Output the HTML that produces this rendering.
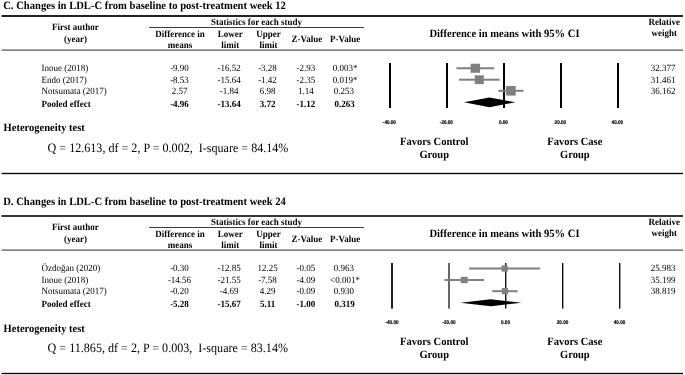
<!DOCTYPE html>
<html><head><meta charset="utf-8"><title>Forest plots</title>
<style>
html,body{margin:0;padding:0;background:#fff;width:685px;height:375px;overflow:hidden;}
svg{display:block;filter:grayscale(1);text-rendering:geometricPrecision;}
</style></head><body>
<svg width="685" height="375" viewBox="0 0 685 375">
<rect x="0" y="0" width="685" height="375" fill="#fff"/>
<text transform="translate(3.2 8.60) scale(1 1.06)" font-size="10.6" font-family='"Liberation Serif", serif' font-weight="bold" text-anchor="start" fill="#000">C. Changes in LDL-C from baseline to post-treatment week 12</text>
<rect x="1.5" y="15" width="681.5" height="2" fill="#222"/>
<text transform="translate(75.4 30.40) scale(1 1.06)" font-size="9" font-family='"Liberation Serif", serif' font-weight="bold" text-anchor="middle" fill="#000">First author</text>
<text transform="translate(75.5 42.00) scale(1 1.06)" font-size="9" font-family='"Liberation Serif", serif' font-weight="bold" text-anchor="middle" fill="#000">(year)</text>
<text transform="translate(256.5 24.90) scale(1 1.06)" font-size="9" font-family='"Liberation Serif", serif' font-weight="bold" text-anchor="middle" fill="#000">Statistics for each study</text>
<rect x="149" y="27" width="215" height="1" fill="#3c3c3c"/>
<text transform="translate(180 37.00) scale(1 1.06)" font-size="9" font-family='"Liberation Serif", serif' font-weight="bold" text-anchor="middle" fill="#000">Difference in</text>
<text transform="translate(180 48.00) scale(1 1.06)" font-size="9" font-family='"Liberation Serif", serif' font-weight="bold" text-anchor="middle" fill="#000">means</text>
<text transform="translate(230.2 37.00) scale(1 1.06)" font-size="9" font-family='"Liberation Serif", serif' font-weight="bold" text-anchor="middle" fill="#000">Lower</text>
<text transform="translate(230.2 48.00) scale(1 1.06)" font-size="9" font-family='"Liberation Serif", serif' font-weight="bold" text-anchor="middle" fill="#000">limit</text>
<text transform="translate(268.6 36.80) scale(1 1.06)" font-size="9" font-family='"Liberation Serif", serif' font-weight="bold" text-anchor="middle" fill="#000">Upper</text>
<text transform="translate(268.6 47.50) scale(1 1.06)" font-size="9" font-family='"Liberation Serif", serif' font-weight="bold" text-anchor="middle" fill="#000">limit</text>
<text transform="translate(306.8 41.80) scale(1 1.06)" font-size="9" font-family='"Liberation Serif", serif' font-weight="bold" text-anchor="middle" fill="#000">Z-Value</text>
<text transform="translate(345.2 41.80) scale(1 1.06)" font-size="9" font-family='"Liberation Serif", serif' font-weight="bold" text-anchor="middle" fill="#000">P-Value</text>
<text transform="translate(429.5 36.60) scale(1 1.06)" font-size="10.55" font-family='"Liberation Serif", serif' font-weight="bold" text-anchor="start" fill="#000" textLength="150" lengthAdjust="spacing">Difference in means with 95% CI</text>
<text transform="translate(664.3 24.90) scale(1 1.06)" font-size="9" font-family='"Liberation Serif", serif' font-weight="bold" text-anchor="middle" fill="#000">Relative</text>
<text transform="translate(664.3 35.90) scale(1 1.06)" font-size="9" font-family='"Liberation Serif", serif' font-weight="bold" text-anchor="middle" fill="#000">weight</text>
<rect x="1.5" y="49" width="681.5" height="1" fill="#a6a6a6"/>
<rect x="1.5" y="50" width="681.5" height="1" fill="#858585"/>
<text transform="translate(41.6 71.00) scale(1 1.06)" font-size="9" font-family='"Liberation Serif", serif' text-anchor="start" fill="#000">Inoue (2018)</text>
<text transform="translate(179.5 71.00) scale(1 1.06)" font-size="9" font-family='"Liberation Serif", serif' text-anchor="middle" fill="#000">-9.90</text>
<text transform="translate(229.2 71.00) scale(1 1.06)" font-size="9" font-family='"Liberation Serif", serif' text-anchor="middle" fill="#000">-16.52</text>
<text transform="translate(267.5 71.00) scale(1 1.06)" font-size="9" font-family='"Liberation Serif", serif' text-anchor="middle" fill="#000">-3.28</text>
<text transform="translate(305.9 71.00) scale(1 1.06)" font-size="9" font-family='"Liberation Serif", serif' text-anchor="middle" fill="#000">-2.93</text>
<text transform="translate(345 71.00) scale(1 1.06)" font-size="9" font-family='"Liberation Serif", serif' text-anchor="middle" fill="#000">0.003*</text>
<text transform="translate(663.2 71.00) scale(1 1.06)" font-size="9" font-family='"Liberation Serif", serif' text-anchor="middle" fill="#000">32.377</text>
<text transform="translate(41.6 82.60) scale(1 1.06)" font-size="9" font-family='"Liberation Serif", serif' text-anchor="start" fill="#000">Endo (2017)</text>
<text transform="translate(179.5 82.60) scale(1 1.06)" font-size="9" font-family='"Liberation Serif", serif' text-anchor="middle" fill="#000">-8.53</text>
<text transform="translate(229.2 82.60) scale(1 1.06)" font-size="9" font-family='"Liberation Serif", serif' text-anchor="middle" fill="#000">-15.64</text>
<text transform="translate(267.5 82.60) scale(1 1.06)" font-size="9" font-family='"Liberation Serif", serif' text-anchor="middle" fill="#000">-1.42</text>
<text transform="translate(305.9 82.60) scale(1 1.06)" font-size="9" font-family='"Liberation Serif", serif' text-anchor="middle" fill="#000">-2.35</text>
<text transform="translate(345 82.60) scale(1 1.06)" font-size="9" font-family='"Liberation Serif", serif' text-anchor="middle" fill="#000">0.019*</text>
<text transform="translate(663.2 82.60) scale(1 1.06)" font-size="9" font-family='"Liberation Serif", serif' text-anchor="middle" fill="#000">31.461</text>
<text transform="translate(41.6 94.20) scale(1 1.06)" font-size="9" font-family='"Liberation Serif", serif' text-anchor="start" fill="#000">Notsumata (2017)</text>
<text transform="translate(179.5 94.20) scale(1 1.06)" font-size="9" font-family='"Liberation Serif", serif' text-anchor="middle" fill="#000">2.57</text>
<text transform="translate(229.2 94.20) scale(1 1.06)" font-size="9" font-family='"Liberation Serif", serif' text-anchor="middle" fill="#000">-1.84</text>
<text transform="translate(267.5 94.20) scale(1 1.06)" font-size="9" font-family='"Liberation Serif", serif' text-anchor="middle" fill="#000">6.98</text>
<text transform="translate(305.9 94.20) scale(1 1.06)" font-size="9" font-family='"Liberation Serif", serif' text-anchor="middle" fill="#000">1.14</text>
<text transform="translate(343.9 94.20) scale(1 1.06)" font-size="9" font-family='"Liberation Serif", serif' text-anchor="middle" fill="#000">0.253</text>
<text transform="translate(663.2 94.20) scale(1 1.06)" font-size="9" font-family='"Liberation Serif", serif' text-anchor="middle" fill="#000">36.162</text>
<text transform="translate(41.6 106.60) scale(1 1.06)" font-size="9" font-family='"Liberation Serif", serif' font-weight="bold" text-anchor="start" fill="#000">Pooled effect</text>
<text transform="translate(179.5 106.60) scale(1 1.06)" font-size="9" font-family='"Liberation Serif", serif' font-weight="bold" text-anchor="middle" fill="#000">-4.96</text>
<text transform="translate(229.2 106.60) scale(1 1.06)" font-size="9" font-family='"Liberation Serif", serif' font-weight="bold" text-anchor="middle" fill="#000">-13.64</text>
<text transform="translate(267.5 106.60) scale(1 1.06)" font-size="9" font-family='"Liberation Serif", serif' font-weight="bold" text-anchor="middle" fill="#000">3.72</text>
<text transform="translate(305.9 106.60) scale(1 1.06)" font-size="9" font-family='"Liberation Serif", serif' font-weight="bold" text-anchor="middle" fill="#000">-1.12</text>
<text transform="translate(344.5 106.60) scale(1 1.06)" font-size="9" font-family='"Liberation Serif", serif' font-weight="bold" text-anchor="middle" fill="#000">0.263</text>
<text transform="translate(3.6 131.40) scale(1 1.06)" font-size="10.5" font-family='"Liberation Serif", serif' font-weight="bold" text-anchor="start" fill="#000">Heterogeneity test</text>
<text transform="translate(47.6 152.00) scale(1 1.06)" font-size="12.08" font-family='"Liberation Serif", serif' text-anchor="start" fill="#000" xml:space="preserve">Q = 12.613, df = 2, P = 0.002,  I-square = 84.14%</text>
<rect x="1.5" y="172" width="681.5" height="1" fill="#d4d4d4"/>
<rect x="1.5" y="174" width="681.5" height="1" fill="#d4d4d4"/>
<rect x="1.5" y="173" width="681.5" height="1" fill="#080808"/>
<rect x="389" y="63" width="2" height="45" fill="#000"/>
<rect x="446" y="63" width="2" height="45" fill="#000"/>
<rect x="503" y="63" width="2" height="45" fill="#000"/>
<rect x="560" y="63" width="2" height="45" fill="#000"/>
<rect x="617" y="63" width="2" height="45" fill="#000"/>
<rect x="456.51800000000003" y="67.25" width="37.73399999999998" height="2" fill="#808080"/>
<rect x="459.026" y="78.7" width="40.52699999999999" height="2" fill="#808080"/>
<rect x="498.356" y="89.8" width="25.137000000000057" height="2" fill="#808080"/>
<rect x="470.685" y="63.7" width="9.4" height="9.1" fill="#808080"/>
<rect x="474.78950000000003" y="75.3" width="9.0" height="8.8" fill="#808080"/>
<rect x="506.1245" y="86.0" width="9.6" height="9.6" fill="#808080"/>
<polygon points="464.0,102.3 489.4,97.4 515.4,102.3 489.4,107.2" fill="#000"/>
<text x="389.4" y="124" font-size="5.4" font-family='"Liberation Sans", sans-serif' font-weight="bold" text-anchor="middle" fill="#000" textLength="13.10" lengthAdjust="spacingAndGlyphs" stroke="#000" stroke-width="0.18">-40.00</text>
<text x="446.4" y="124" font-size="5.4" font-family='"Liberation Sans", sans-serif' font-weight="bold" text-anchor="middle" fill="#000" textLength="13.10" lengthAdjust="spacingAndGlyphs" stroke="#000" stroke-width="0.18">-20.00</text>
<text x="503.4" y="124" font-size="5.4" font-family='"Liberation Sans", sans-serif' font-weight="bold" text-anchor="middle" fill="#000" textLength="8.99" lengthAdjust="spacingAndGlyphs" stroke="#000" stroke-width="0.18">0.00</text>
<text x="560.4" y="124" font-size="5.4" font-family='"Liberation Sans", sans-serif' font-weight="bold" text-anchor="middle" fill="#000" textLength="11.56" lengthAdjust="spacingAndGlyphs" stroke="#000" stroke-width="0.18">20.00</text>
<text x="617.4" y="124" font-size="5.4" font-family='"Liberation Sans", sans-serif' font-weight="bold" text-anchor="middle" fill="#000" textLength="11.56" lengthAdjust="spacingAndGlyphs" stroke="#000" stroke-width="0.18">40.00</text>
<text transform="translate(434.2 145.20) scale(1 1.06)" font-size="10.5" font-family='"Liberation Serif", serif' font-weight="bold" text-anchor="middle" fill="#000">Favors Control</text>
<text transform="translate(434.2 158.00) scale(1 1.06)" font-size="10.5" font-family='"Liberation Serif", serif' font-weight="bold" text-anchor="middle" fill="#000">Group</text>
<text transform="translate(574.8 145.20) scale(1 1.06)" font-size="10.5" font-family='"Liberation Serif", serif' font-weight="bold" text-anchor="middle" fill="#000">Favors Case</text>
<text transform="translate(574.8 158.00) scale(1 1.06)" font-size="10.5" font-family='"Liberation Serif", serif' font-weight="bold" text-anchor="middle" fill="#000">Group</text>
<text transform="translate(3.2 204.60) scale(1 1.06)" font-size="10.6" font-family='"Liberation Serif", serif' font-weight="bold" text-anchor="start" fill="#000">D. Changes in LDL-C from baseline to post-treatment week 24</text>
<rect x="1.5" y="215" width="681.5" height="2" fill="#363636"/>
<text transform="translate(75.4 230.40) scale(1 1.06)" font-size="9" font-family='"Liberation Serif", serif' font-weight="bold" text-anchor="middle" fill="#000">First author</text>
<text transform="translate(75.5 242.00) scale(1 1.06)" font-size="9" font-family='"Liberation Serif", serif' font-weight="bold" text-anchor="middle" fill="#000">(year)</text>
<text transform="translate(256.5 224.90) scale(1 1.06)" font-size="9" font-family='"Liberation Serif", serif' font-weight="bold" text-anchor="middle" fill="#000">Statistics for each study</text>
<rect x="149" y="227" width="215" height="1" fill="#3c3c3c"/>
<text transform="translate(180 237.00) scale(1 1.06)" font-size="9" font-family='"Liberation Serif", serif' font-weight="bold" text-anchor="middle" fill="#000">Difference in</text>
<text transform="translate(180 248.00) scale(1 1.06)" font-size="9" font-family='"Liberation Serif", serif' font-weight="bold" text-anchor="middle" fill="#000">means</text>
<text transform="translate(230.2 237.00) scale(1 1.06)" font-size="9" font-family='"Liberation Serif", serif' font-weight="bold" text-anchor="middle" fill="#000">Lower</text>
<text transform="translate(230.2 248.00) scale(1 1.06)" font-size="9" font-family='"Liberation Serif", serif' font-weight="bold" text-anchor="middle" fill="#000">limit</text>
<text transform="translate(268.6 236.80) scale(1 1.06)" font-size="9" font-family='"Liberation Serif", serif' font-weight="bold" text-anchor="middle" fill="#000">Upper</text>
<text transform="translate(268.6 247.50) scale(1 1.06)" font-size="9" font-family='"Liberation Serif", serif' font-weight="bold" text-anchor="middle" fill="#000">limit</text>
<text transform="translate(306.8 241.80) scale(1 1.06)" font-size="9" font-family='"Liberation Serif", serif' font-weight="bold" text-anchor="middle" fill="#000">Z-Value</text>
<text transform="translate(345.2 241.80) scale(1 1.06)" font-size="9" font-family='"Liberation Serif", serif' font-weight="bold" text-anchor="middle" fill="#000">P-Value</text>
<text transform="translate(429.5 236.60) scale(1 1.06)" font-size="10.55" font-family='"Liberation Serif", serif' font-weight="bold" text-anchor="start" fill="#000" textLength="150" lengthAdjust="spacing">Difference in means with 95% CI</text>
<text transform="translate(664.3 224.90) scale(1 1.06)" font-size="9" font-family='"Liberation Serif", serif' font-weight="bold" text-anchor="middle" fill="#000">Relative</text>
<text transform="translate(664.3 235.90) scale(1 1.06)" font-size="9" font-family='"Liberation Serif", serif' font-weight="bold" text-anchor="middle" fill="#000">weight</text>
<rect x="1.5" y="249" width="681.5" height="1" fill="#a6a6a6"/>
<rect x="1.5" y="250" width="681.5" height="1" fill="#858585"/>
<text transform="translate(41.6 271.00) scale(1 1.06)" font-size="9" font-family='"Liberation Serif", serif' text-anchor="start" fill="#000">Özdoğan (2020)</text>
<text transform="translate(179.5 271.00) scale(1 1.06)" font-size="9" font-family='"Liberation Serif", serif' text-anchor="middle" fill="#000">-0.30</text>
<text transform="translate(229.2 271.00) scale(1 1.06)" font-size="9" font-family='"Liberation Serif", serif' text-anchor="middle" fill="#000">-12.85</text>
<text transform="translate(267.5 271.00) scale(1 1.06)" font-size="9" font-family='"Liberation Serif", serif' text-anchor="middle" fill="#000">12.25</text>
<text transform="translate(305.9 271.00) scale(1 1.06)" font-size="9" font-family='"Liberation Serif", serif' text-anchor="middle" fill="#000">-0.05</text>
<text transform="translate(343.9 271.00) scale(1 1.06)" font-size="9" font-family='"Liberation Serif", serif' text-anchor="middle" fill="#000">0.963</text>
<text transform="translate(663.2 271.00) scale(1 1.06)" font-size="9" font-family='"Liberation Serif", serif' text-anchor="middle" fill="#000">25.983</text>
<text transform="translate(41.6 282.60) scale(1 1.06)" font-size="9" font-family='"Liberation Serif", serif' text-anchor="start" fill="#000">Inoue (2018)</text>
<text transform="translate(179.5 282.60) scale(1 1.06)" font-size="9" font-family='"Liberation Serif", serif' text-anchor="middle" fill="#000">-14.56</text>
<text transform="translate(229.2 282.60) scale(1 1.06)" font-size="9" font-family='"Liberation Serif", serif' text-anchor="middle" fill="#000">-21.55</text>
<text transform="translate(267.5 282.60) scale(1 1.06)" font-size="9" font-family='"Liberation Serif", serif' text-anchor="middle" fill="#000">-7.58</text>
<text transform="translate(305.9 282.60) scale(1 1.06)" font-size="9" font-family='"Liberation Serif", serif' text-anchor="middle" fill="#000">-4.09</text>
<text transform="translate(345 282.60) scale(1 1.06)" font-size="9" font-family='"Liberation Serif", serif' text-anchor="middle" fill="#000">&lt;0.001*</text>
<text transform="translate(663.2 282.60) scale(1 1.06)" font-size="9" font-family='"Liberation Serif", serif' text-anchor="middle" fill="#000">35.199</text>
<text transform="translate(41.6 294.20) scale(1 1.06)" font-size="9" font-family='"Liberation Serif", serif' text-anchor="start" fill="#000">Notsumata (2017)</text>
<text transform="translate(179.5 294.20) scale(1 1.06)" font-size="9" font-family='"Liberation Serif", serif' text-anchor="middle" fill="#000">-0.20</text>
<text transform="translate(229.2 294.20) scale(1 1.06)" font-size="9" font-family='"Liberation Serif", serif' text-anchor="middle" fill="#000">-4.69</text>
<text transform="translate(267.5 294.20) scale(1 1.06)" font-size="9" font-family='"Liberation Serif", serif' text-anchor="middle" fill="#000">4.29</text>
<text transform="translate(305.9 294.20) scale(1 1.06)" font-size="9" font-family='"Liberation Serif", serif' text-anchor="middle" fill="#000">-0.09</text>
<text transform="translate(343.9 294.20) scale(1 1.06)" font-size="9" font-family='"Liberation Serif", serif' text-anchor="middle" fill="#000">0.930</text>
<text transform="translate(663.2 294.20) scale(1 1.06)" font-size="9" font-family='"Liberation Serif", serif' text-anchor="middle" fill="#000">38.819</text>
<text transform="translate(41.6 306.60) scale(1 1.06)" font-size="9" font-family='"Liberation Serif", serif' font-weight="bold" text-anchor="start" fill="#000">Pooled effect</text>
<text transform="translate(179.5 306.60) scale(1 1.06)" font-size="9" font-family='"Liberation Serif", serif' font-weight="bold" text-anchor="middle" fill="#000">-5.28</text>
<text transform="translate(229.2 306.60) scale(1 1.06)" font-size="9" font-family='"Liberation Serif", serif' font-weight="bold" text-anchor="middle" fill="#000">-15.67</text>
<text transform="translate(267.5 306.60) scale(1 1.06)" font-size="9" font-family='"Liberation Serif", serif' font-weight="bold" text-anchor="middle" fill="#000">5.11</text>
<text transform="translate(305.9 306.60) scale(1 1.06)" font-size="9" font-family='"Liberation Serif", serif' font-weight="bold" text-anchor="middle" fill="#000">-1.00</text>
<text transform="translate(344.5 306.60) scale(1 1.06)" font-size="9" font-family='"Liberation Serif", serif' font-weight="bold" text-anchor="middle" fill="#000">0.319</text>
<text transform="translate(3.6 331.60) scale(1 1.06)" font-size="10.5" font-family='"Liberation Serif", serif' font-weight="bold" text-anchor="start" fill="#000">Heterogeneity test</text>
<text transform="translate(47.6 352.00) scale(1 1.06)" font-size="12.08" font-family='"Liberation Serif", serif' text-anchor="start" fill="#000" xml:space="preserve">Q = 11.865, df = 2, P = 0.003,  I-square = 83.14%</text>
<rect x="1.5" y="372" width="681.5" height="1" fill="#d4d4d4"/>
<rect x="1.5" y="374" width="681.5" height="1" fill="#d4d4d4"/>
<rect x="1.5" y="373" width="681.5" height="1" fill="#080808"/>
<rect x="391" y="263" width="2" height="45.6" fill="#222"/>
<rect x="448" y="263" width="2" height="45.6" fill="#666"/>
<rect x="505" y="263" width="1.4" height="45.6" fill="#111"/>
<rect x="562" y="263" width="1.4" height="45.6" fill="#111"/>
<rect x="619" y="263" width="1.4" height="45.6" fill="#111"/>
<rect x="469.07025" y="267.5" width="71.1585" height="2" fill="#808080"/>
<rect x="444.40575" y="279" width="39.604949999999974" height="2" fill="#808080"/>
<rect x="492.20385" y="290.2" width="25.45830000000001" height="2" fill="#808080"/>
<rect x="501.4995" y="265.4" width="6.3" height="6.2" fill="#808080"/>
<rect x="460.7224" y="276.85" width="7.0" height="6.3" fill="#808080"/>
<rect x="501.783" y="288.09999999999997" width="6.3" height="6.2" fill="#808080"/>
<polygon points="460.4,302.8 490.8,299.3 521.5,302.8 490.8,306.3" fill="#000"/>
<text x="392" y="323.9" font-size="5.4" font-family='"Liberation Sans", sans-serif' font-weight="bold" text-anchor="middle" fill="#000" textLength="13.10" lengthAdjust="spacingAndGlyphs" stroke="#000" stroke-width="0.18">-40.00</text>
<text x="449" y="323.9" font-size="5.4" font-family='"Liberation Sans", sans-serif' font-weight="bold" text-anchor="middle" fill="#000" textLength="13.10" lengthAdjust="spacingAndGlyphs" stroke="#000" stroke-width="0.18">-20.00</text>
<text x="505.5" y="323.9" font-size="5.4" font-family='"Liberation Sans", sans-serif' font-weight="bold" text-anchor="middle" fill="#000" textLength="8.99" lengthAdjust="spacingAndGlyphs" stroke="#000" stroke-width="0.18">0.00</text>
<text x="562.5" y="323.9" font-size="5.4" font-family='"Liberation Sans", sans-serif' font-weight="bold" text-anchor="middle" fill="#000" textLength="11.56" lengthAdjust="spacingAndGlyphs" stroke="#000" stroke-width="0.18">20.00</text>
<text x="619.5" y="323.9" font-size="5.4" font-family='"Liberation Sans", sans-serif' font-weight="bold" text-anchor="middle" fill="#000" textLength="11.56" lengthAdjust="spacingAndGlyphs" stroke="#000" stroke-width="0.18">40.00</text>
<text transform="translate(434.2 345.20) scale(1 1.06)" font-size="10.5" font-family='"Liberation Serif", serif' font-weight="bold" text-anchor="middle" fill="#000">Favors Control</text>
<text transform="translate(434.2 358.00) scale(1 1.06)" font-size="10.5" font-family='"Liberation Serif", serif' font-weight="bold" text-anchor="middle" fill="#000">Group</text>
<text transform="translate(574.8 345.20) scale(1 1.06)" font-size="10.5" font-family='"Liberation Serif", serif' font-weight="bold" text-anchor="middle" fill="#000">Favors Case</text>
<text transform="translate(574.8 358.00) scale(1 1.06)" font-size="10.5" font-family='"Liberation Serif", serif' font-weight="bold" text-anchor="middle" fill="#000">Group</text>
</svg>
</body></html>
